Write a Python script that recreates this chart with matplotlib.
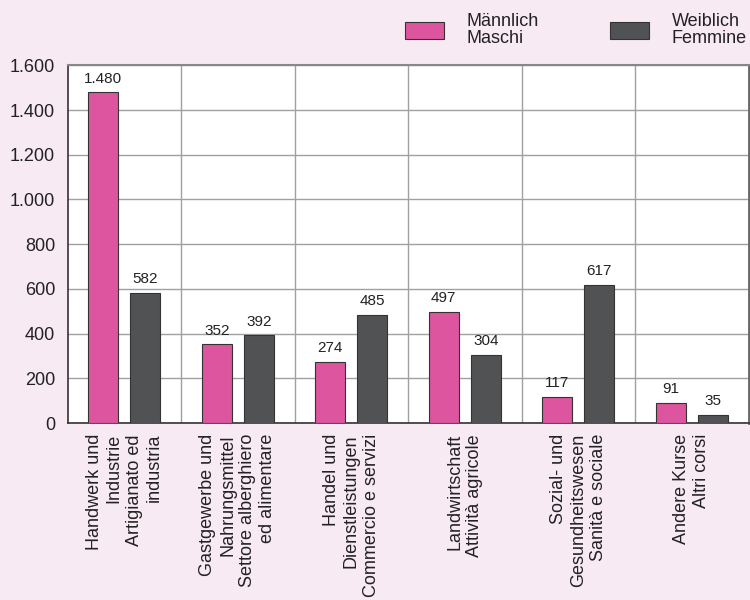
import matplotlib.pyplot as plt
import numpy as np

# Kategorien / categorie
kategorien = [
    'Handwerk und\nIndustrie\nArtigianato ed\nindustria',
    'Gastgewerbe und\nNahrungsmittel\nSettore alberghiero\ned alimentare',
    'Handel und\nDienstleistungen\nCommercio e servizi',
    'Landwirtschaft\nAttività agricole',
    'Sozial- und\nGesundheitswesen\nSanità e sociale',
    'Andere Kurse\nAltri corsi',
]
maennlich = [1480, 352, 274, 497, 117, 91]
weiblich = [582, 392, 485, 304, 617, 35]
y_ticks = [0, 200, 400, 600, 800, 1000, 1200, 1400, 1600]

ROSA = '#DD559E'
GRAU = '#505254'
HINTERGRUND = '#F8EAF3'


def fmt(v):
    # Tausendertrennzeichen mit Punkt
    return f'{v:,}'.replace(',', '.')


plt.rcParams['font.family'] = ['Liberation Sans', 'DejaVu Sans']

fig = plt.figure(figsize=(7.5, 6), dpi=100, facecolor=HINTERGRUND)
ax = fig.add_axes([0.09, 0.295, 0.908, 0.596])
ax.set_facecolor('white')

x = np.arange(len(kategorien))
breite = 0.265
versatz = 0.185

b1 = ax.bar(x - versatz, maennlich, breite, color=ROSA, edgecolor='#333333',
            linewidth=0.8, label='Männlich\nMaschi', zorder=3)
b2 = ax.bar(x + versatz, weiblich, breite, color=GRAU, edgecolor='#333333',
            linewidth=0.8, label='Weiblich\nFemmine', zorder=3)

for balken, werte in ((b1, maennlich), (b2, weiblich)):
    for rect, v in zip(balken, werte):
        ax.text(rect.get_x() + rect.get_width() / 2, v + 30, fmt(v),
                ha='center', va='bottom', fontsize=11, color='#222222')

ax.set_xlim(-0.5, len(kategorien) - 0.5)
ax.set_ylim(0, 1600)
ax.set_yticks(y_ticks)
ax.set_yticklabels([fmt(v) for v in y_ticks], fontsize=13, color='#222222')
ax.set_xticks(x)
ax.set_xticklabels(kategorien, rotation=90, ha='center', va='top',
                   multialignment='right', fontsize=13, color='#222222',
                   linespacing=1.24)
ax.tick_params(axis='both', length=0, pad=8)
ax.tick_params(axis='y', pad=9)

# Gitter
ax.yaxis.grid(True, color='#a0a0a0', linewidth=1.0, zorder=0)
for g in np.arange(0.5, len(kategorien) - 0.5, 1):
    ax.axvline(g, color='#a0a0a0', linewidth=1.0, zorder=0)

for s in ['left', 'bottom']:
    ax.spines[s].set_color('#333333')
    ax.spines[s].set_linewidth(1.2)
ax.spines['top'].set_color('#888888')
ax.spines['top'].set_linewidth(1.5)
ax.spines['right'].set_color('#666666')
ax.spines['right'].set_linewidth(2.0)

leg = fig.legend(handles=[b1, b2], loc='upper left', bbox_to_anchor=(0.518, 1.005),
                 ncol=2, frameon=False, fontsize=13, handlelength=2.17,
                 handleheight=1.1, columnspacing=3.93, handletextpad=1.25,
                 labelspacing=0.2)
for t in leg.get_texts():
    t.set_color('#222222')
    t.set_linespacing(1.0)

fig.savefig('out.png', dpi=100, facecolor=HINTERGRUND)
